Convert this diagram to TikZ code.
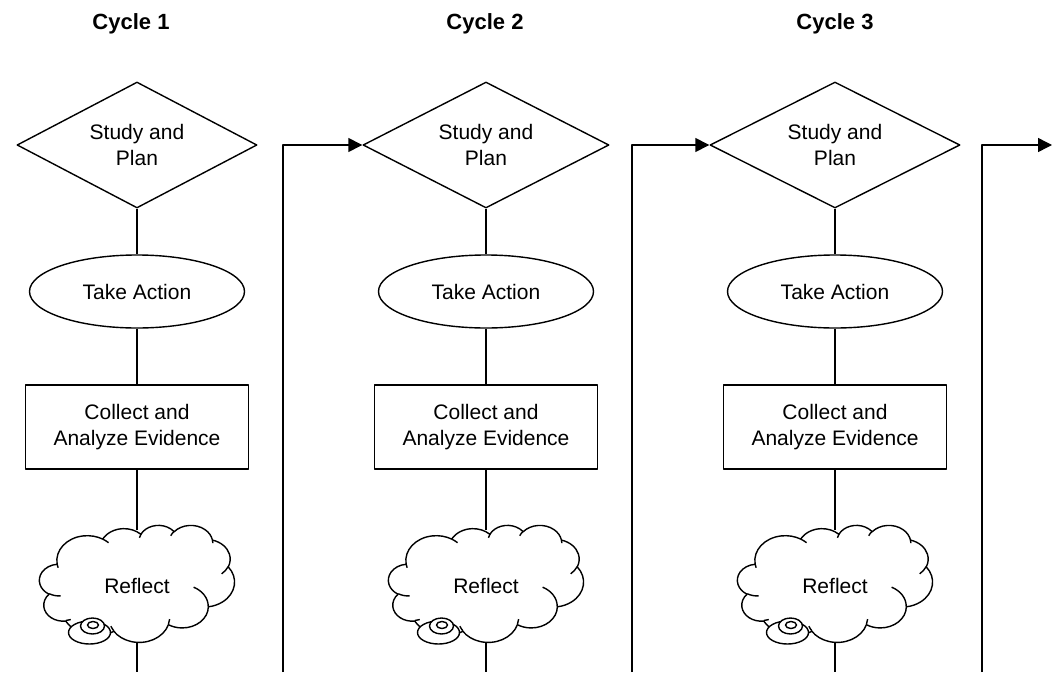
\documentclass[tikz,border=0pt]{standalone}
\usepackage{fontspec}
\setmainfont{Liberation Sans}
\usetikzlibrary{shapes.geometric,arrows.meta}
\makeatletter
% convert an OOXML arcTo (visual start angle, sweep) to parametric angles
\newcommand\ooset[5]{%
  \pgfmathsetmacro\oo@ta{atan2((#2)*sin(#4),(#3)*cos(#4))}%
  \pgfmathsetmacro\oo@tb{atan2((#2)*sin((#4)+(#5)),(#3)*cos((#4)+(#5)))}%
  \pgfmathsetmacro\oo@td{Mod(\oo@tb-\oo@ta,360)}%
  \pgfmathsetmacro\oo@te{\oo@ta+\oo@td}%
  \expandafter\xdef\csname ooS#1\endcsname{\oo@ta}%
  \expandafter\xdef\csname ooE#1\endcsname{\oo@te}%
}
\makeatother
% outline arcs
\ooset{a}{67.53}{91.90}{-190.48748}{123.78053}
\ooset{b}{53.33}{72.67}{-144.10238}{89.94523}
\ooset{c}{43.65}{59.45}{-145.80792}{99.72302}
\ooset{d}{48.57}{65.95}{-130.98607}{117.24173}
\ooset{e}{53.33}{72.73}{-78.70888}{109.02692}
\ooset{f}{67.75}{92.20}{-46.26725}{130.269}
\ooset{g}{57.85}{78.67}{0.62502}{114.03333}
\ooset{h}{67.52}{92.15}{22.4516}{115.17255}
\ooset{i}{77.20}{105.43}{66.24263}{75.71102}
\ooset{j}{43.60}{59.18}{-274.94208}{146.73557}
\ooset{k}{43.45}{59.45}{-246.8285}{152.51885}
% inner arcs
\ooset{A}{43.45}{59.45}{86.742}{26.4295}
\ooset{B}{43.60}{59.18}{73.61047}{11.44747}
\ooset{C}{67.52}{92.15}{137.62415}{14.0811}
\ooset{D}{67.52}{92.15}{6.45327}{15.99835}
\ooset{E}{57.85}{78.67}{-70.29235}{70.91737}
\ooset{F}{53.33}{72.73}{30.31803}{27.7515}
\ooset{G}{48.57}{65.95}{-13.74433}{14.8589}
\ooset{H}{48.57}{65.95}{-149.18145}{18.19537}
\ooset{I}{43.65}{59.45}{-163.49427}{17.68635}
\ooset{J}{67.53}{91.90}{-66.70695}{12.31935}
\ooset{K}{67.53}{91.90}{157.65435}{11.85817}

\tikzset{
  ln/.style={line width=1.4pt, line join=round},
  txt/.style={font=\fontsize{21pt}{25.5pt}\selectfont, align=center},
  ttl/.style={font=\fontsize{22pt}{26pt}\selectfont\bfseries},
  dia/.style={txt, ln, draw, diamond, aspect=2, inner sep=0pt, minimum height=126pt},
  ell/.style={txt, ln, draw, ellipse, inner sep=0pt, minimum width=215pt, minimum height=73pt},
  rbox/.style={txt, ln, draw, rectangle, inner sep=0pt, minimum width=223pt, minimum height=84pt},
  cloudtext/.style={txt, rectangle, inner sep=0pt, minimum width=195pt, minimum height=112pt},
  conn/.style={ln},
  arr/.style={ln, -{Triangle[length=14pt,width=14pt]}}
}

% cloud drawn from its top-left corner (#1,#2), 195 x 117
\newcommand\cloudat[2]{%
  \begin{scope}[shift={(#1,#2)}, x=0.45139pt, y=-0.27083pt]
    \draw[ln, fill=white] (39.00,143.70)
      arc[start angle=\ooSa,end angle=\ooEa,x radius=67.53,y radius=91.90]
      arc[start angle=\ooSb,end angle=\ooEb,x radius=53.33,y radius=72.67]
      arc[start angle=\ooSc,end angle=\ooEc,x radius=43.65,y radius=59.45]
      arc[start angle=\ooSd,end angle=\ooEd,x radius=48.57,y radius=65.95]
      arc[start angle=\ooSe,end angle=\ooEe,x radius=53.33,y radius=72.73]
      arc[start angle=\ooSf,end angle=\ooEf,x radius=67.75,y radius=92.20]
      arc[start angle=\ooSg,end angle=\ooEg,x radius=57.85,y radius=78.67]
      arc[start angle=\ooSh,end angle=\ooEh,x radius=67.52,y radius=92.15]
      arc[start angle=\ooSi,end angle=\ooEi,x radius=77.20,y radius=105.43]
      arc[start angle=\ooSj,end angle=\ooEj,x radius=43.60,y radius=59.18]
      arc[start angle=\ooSk,end angle=\ooEk,x radius=43.45,y radius=59.45]
      -- cycle;
    \draw[ln]
      (46.93,261.77) arc[start angle=\ooSA,end angle=\ooEA,x radius=43.45,y radius=59.45]
      (69.28,348.99) arc[start angle=\ooSB,end angle=\ooEB,x radius=43.60,y radius=59.18]
      (164.78,390.90) arc[start angle=\ooSC,end angle=\ooEC,x radius=67.52,y radius=92.15]
      (288.27,347.51) arc[start angle=\ooSD,end angle=\ooED,x radius=67.52,y radius=92.15]
      (341.29,229.54) arc[start angle=\ooSE,end angle=\ooEE,x radius=57.85,y radius=78.67]
      (417.98,153.54) arc[start angle=\ooSF,end angle=\ooEF,x radius=53.33,y radius=72.73]
      (383.24,54.26) arc[start angle=\ooSG,end angle=\ooEG,x radius=48.57,y radius=65.95]
      (290.78,39.52) arc[start angle=\ooSH,end angle=\ooEH,x radius=48.57,y radius=65.95]
      (221.41,47.20) arc[start angle=\ooSI,end angle=\ooEI,x radius=43.65,y radius=59.45]
      (140.00,51.92) arc[start angle=\ooSJ,end angle=\ooEJ,x radius=67.53,y radius=91.90]
      (41.27,157.89) arc[start angle=\ooSK,end angle=\ooEK,x radius=67.53,y radius=91.90];
  \end{scope}
  \draw[ln, fill=white] ({#1+50},{#2+107.5}) ellipse [x radius=21, y radius=11.5];
  \draw[ln, fill=white] ({#1+53},{#2+101}) ellipse [x radius=12, y radius=8];
  \draw[ln, fill=white] ({#1+53.5},{#2+100}) ellipse [x radius=5.5, y radius=3.5];
}

\begin{document}
\begin{tikzpicture}[x=1pt, y=-1pt]
  \useasboundingbox (0,0) rectangle (1052,672);

  % titles
  \node[ttl] (t1) at (131,24) {Cycle 1};
  \node[ttl] (t2) at (485,24) {Cycle 2};
  \node[ttl] (t3) at (835,24) {Cycle 3};

  % clouds (drawn first)
  \cloudat{39.5}{525}
  \cloudat{388.5}{525}
  \cloudat{737.5}{525}

  % cycle 1
  \node[dia, minimum width=240pt] (d1) at (137,145) {Study and\\Plan};
  \node[ell] (e1) at (137,291.5) {Take Action};
  \node[rbox] (b1) at (137,427) {Collect and\\Analyze Evidence};
  \node[cloudtext] (r1) at (137,586) {Reflect};

  % cycle 2
  \node[dia, minimum width=246pt] (d2) at (486,145) {Study and\\Plan};
  \node[ell] (e2) at (486,291.5) {Take Action};
  \node[rbox] (b2) at (486,427) {Collect and\\Analyze Evidence};
  \node[cloudtext] (r2) at (486,586) {Reflect};

  % cycle 3
  \node[dia, minimum width=250pt] (d3) at (835,145) {Study and\\Plan};
  \node[ell] (e3) at (835,291.5) {Take Action};
  \node[rbox] (b3) at (835,427) {Collect and\\Analyze Evidence};
  \node[cloudtext] (r3) at (835,586) {Reflect};

  % free ends at the bottom edge / right edge
  \coordinate (o1) at (137,672);
  \coordinate (o2) at (486,672);
  \coordinate (o3) at (835,672);
  \coordinate (u1) at (283,672);
  \coordinate (u2) at (632,672);
  \coordinate (u3) at (982,672);
  \coordinate (endc) at (1052,145);

  \foreach \i in {1,2,3} {
    \draw[conn] (d\i.south) -- (e\i.north);
    \draw[conn] (e\i.south) -- (b\i.north);
    \draw[conn] (b\i.south) -- (r\i.north);
    \draw[conn] (r\i.south) -- (o\i);
  }

  \draw[arr] (u1) |- (d2.west);
  \draw[arr] (u2) |- (d3.west);
  \draw[arr] (u3) |- (endc);
\end{tikzpicture}
\end{document}
